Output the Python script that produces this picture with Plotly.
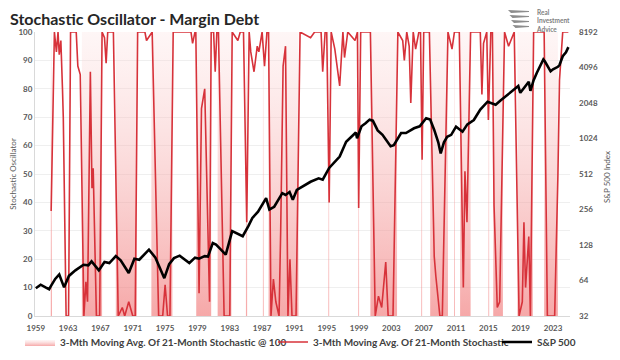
import math
import plotly.graph_objects as go

# ---------------- data ----------------
X_TICK_YEARS = [1959, 1963, 1967, 1971, 1975, 1979, 1983, 1987, 1991, 1995,
                1999, 2003, 2007, 2011, 2015, 2019, 2023]
X_TICK_LABELS = [str(y) for y in X_TICK_YEARS]

LEFT_TICKS = [0, 10, 20, 30, 40, 50, 60, 70, 80, 90, 100]
RIGHT_TICKS = [32, 64, 128, 256, 512, 1024, 2048, 4096, 8192]
RIGHT_TICK_LABELS = ["32", "64", "128", "256", "512", "1024", "2048", "4096", "8192"]

# shaded periods of "3-Mth Moving Avg. Of 21-Month Stochastic @ 100"
BAND_START = [1960.85, 1964.7, 1968.9, 1973.3, 1978.85, 1981.5, 1985.0, 1987.1,
              1987.8, 1995.2, 1998.9, 2000.4, 2006.7, 2007.8, 2010.75, 2011.5,
              2015.0, 2015.6, 2018.6, 2021.9]
BAND_END = [1961.0, 1967.2, 1971.5, 1975.9, 1980.7, 1983.2, 1985.15, 1987.2,
            1991.5, 1995.3, 1999.0, 2003.7, 2006.8, 2010.0, 2010.85, 2012.8,
            2015.1, 2016.8, 2020.5, 2023.6]

# 3-Mth Moving Avg. Of 21-Month Stochastic
STOCH_T = [1960.9, 1961.3, 1961.55, 1961.75, 1961.9, 1962.1, 1962.3, 1962.4, 1962.75,
           1963.05, 1963.3, 1964.0, 1964.2, 1964.5, 1964.95, 1965.2, 1965.4, 1965.75,
           1965.95, 1966.1, 1966.5, 1966.9, 1967.2, 1967.5, 1967.7, 1967.9, 1968.6,
           1969.2, 1969.7, 1970.0, 1970.5, 1971.0, 1971.3, 1971.6, 1972.5, 1972.7,
           1973.4, 1974.2, 1974.7, 1975.0, 1975.3, 1975.6, 1976.0, 1978.2, 1978.4,
           1978.7, 1978.8, 1979.0, 1979.2, 1979.5, 1979.9, 1980.5, 1980.7, 1981.0,
           1981.2, 1981.4, 1981.6, 1982.3, 1983.0, 1983.3, 1984.0, 1984.3, 1984.7,
           1985.1, 1985.4, 1985.6, 1986.0, 1986.4, 1986.6, 1987.0, 1987.3, 1987.6,
           1987.8, 1988.1, 1988.4, 1988.7, 1989.1, 1989.3, 1989.6, 1989.9, 1990.2,
           1990.45, 1990.7, 1991.2, 1991.7, 1993.0, 1993.5, 1994.3, 1994.5, 1994.8,
           1995.0, 1995.3, 1995.55, 1996.0, 1996.6, 1997.0, 1997.2, 1997.6, 1998.5,
           1998.8, 1998.95, 1999.2, 2000.4, 2001.0, 2001.4, 2001.8, 2002.3, 2002.6,
           2003.2, 2003.8, 2004.4, 2004.6, 2004.9, 2005.2, 2005.4, 2005.7, 2006.0,
           2006.4, 2006.6, 2006.8, 2007.0, 2007.7, 2008.3, 2008.5, 2009.0, 2009.3,
           2010.0, 2010.5, 2010.8, 2011.4, 2011.9, 2012.1, 2012.35, 2012.8, 2014.0,
           2014.2, 2014.4, 2014.8, 2015.0, 2015.3, 2015.5, 2015.7, 2016.1, 2016.4,
           2017.0, 2017.5, 2018.2, 2018.8, 2019.2, 2019.4, 2019.6, 2020.0, 2020.2,
           2020.6, 2021.9, 2022.3, 2023.2, 2023.6, 2023.8, 2024.2, 2024.9]
STOCH_V = [37, 100, 93, 100, 92, 97, 80, 70, 0,
           0, 100, 100, 88, 85, 0, 12, 5, 86,
           45, 52, 0, 0, 100, 98, 89, 100, 100,
           0, 3, 0, 5, 0, 0, 100, 100, 97,
           100, 0, 0, 11, 0, 0, 100, 100, 96,
           100, 100, 42, 8, 73, 80, 5, 100, 100,
           86, 100, 100, 0, 0, 100, 97, 100, 100,
           33, 100, 93, 86, 95, 93, 100, 88, 100,
           100, 0, 13, 5, 0, 30, 88, 95, 0,
           20, 0, 0, 100, 98, 100, 100, 86, 100,
           100, 40, 100, 94, 81, 100, 91, 100, 97,
           100, 38, 100, 100, 0, 7, 3, 19, 0,
           0, 100, 97, 90, 100, 95, 75, 100, 94,
           100, 100, 55, 100, 100, 21, 14, 0, 0,
           100, 94, 100, 100, 10, 51, 33, 100, 100,
           78, 96, 100, 69, 100, 100, 39, 3, 5,
           100, 95, 100, 0, 5, 33, 10, 28, 0,
           100, 100, 0, 0, 49, 83, 100, 100]

# S&P 500 index
SPX_T = [1959.0, 1959.6, 1960.2, 1960.65, 1960.9, 1961.4, 1961.9, 1962.5, 1963.1,
         1963.9, 1964.9, 1965.5, 1965.9, 1966.8, 1967.5, 1968.1, 1968.9, 1969.5,
         1970.5, 1971.2, 1971.8, 1973.0, 1973.8, 1974.9, 1975.5, 1976.1, 1976.8,
         1978.0, 1978.7, 1979.2, 1979.9, 1980.3, 1980.9, 1981.3, 1981.7, 1982.5,
         1983.3, 1983.8, 1984.6, 1985.3, 1985.8, 1986.5, 1987.5, 1987.9, 1988.5,
         1989.5, 1989.9, 1990.4, 1990.8, 1991.3, 1992.0, 1993.0, 1994.0, 1994.5,
         1995.3, 1996.0, 1996.6, 1997.4, 1998.0, 1998.6, 1998.75, 1999.3, 1999.8,
         2000.3, 2000.7, 2001.3, 2001.9, 2002.5, 2002.9, 2003.3, 2003.8, 2004.2,
         2004.8, 2005.8, 2006.5, 2007.3, 2007.8, 2008.3, 2008.8, 2009.1, 2009.5,
         2009.9, 2010.4, 2011.0, 2011.8, 2012.4, 2013.2, 2014.0, 2014.9, 2015.9,
         2016.5, 2017.8, 2018.7, 2018.95, 2019.5, 2020.0, 2020.2, 2020.6, 2021.0,
         2021.8, 2022.0, 2022.7, 2023.0, 2023.6, 2023.8, 2024.2, 2024.6, 2024.9]
SPX_V = [55, 59, 56, 54, 58, 66, 72, 56, 70,
         78, 87, 86, 93, 78, 92, 90, 103, 95,
         74, 98, 96, 117, 100, 67, 88, 99, 104,
         90, 100, 98, 103, 102, 133, 129, 121, 106,
         168, 162, 152, 185, 217, 245, 320, 256, 270,
         352, 340, 360, 310, 375, 402, 440, 470, 458,
         576, 650, 720, 960, 1050, 1150, 1030, 1300, 1380,
         1480, 1450, 1200, 1100, 950, 880, 900, 1031, 1140,
         1140, 1250, 1300, 1520, 1480, 1210, 950, 766, 950,
         1060, 1100, 1290, 1170, 1350, 1470, 1800, 2100, 1980,
         2150, 2550, 2850, 2500, 2800, 3100, 2600, 3200, 3700,
         4800, 4600, 3800, 3950, 4150, 4300, 5100, 5500, 6100]

# ---------------- figure ----------------
band_x, band_y = [], []
for s, e in zip(BAND_START, BAND_END):
    band_x += [s, s, e, e]
    band_y += [0, 100, 100, 0]

FONT = "Lato"
GREY = "#595959"
W, H = 612, 352     # page body has an 8px margin
OFF = 8

fig = go.Figure()

fig.add_trace(go.Scatter(
    x=band_x, y=band_y, mode="lines", fill="tozeroy",
    line=dict(width=0, color="rgba(244,175,175,0.6)"),
    fillcolor="rgba(244,175,175,0.6)",
    fillgradient=dict(type="vertical", start=0, stop=100,
                      colorscale=[[0, "rgba(240,115,115,0.62)"],
                                  [1, "rgba(252,225,225,0.30)"]]),
    name="3-Mth Moving Avg. Of 21-Month Stochastic @ 100",
    legend="legend", hoverinfo="skip"))

fig.add_trace(go.Scatter(
    x=STOCH_T, y=STOCH_V, mode="lines",
    line=dict(color="#d7323a", width=1.6),
    name="3-Mth Moving Avg. Of 21-Month Stochastic", legend="legend2"))

fig.add_trace(go.Scatter(
    x=SPX_T, y=SPX_V, mode="lines", yaxis="y2",
    line=dict(color="#000000", width=2.6),
    name="S&amp;P 500", legend="legend3"))

tickfont = dict(family=FONT, size=8, color=GREY, weight="bold")
legfont = dict(family=FONT, size=10, color="#404040", weight="bold")
LEG_Y = 1 - (342 - OFF) / H


def leg(text_px):
    return dict(orientation="h", xref="container", x=(text_px - 48) / W,
                xanchor="left", yref="container", y=LEG_Y, yanchor="middle",
                font=legfont, bgcolor="rgba(0,0,0,0)", itemwidth=30)


# plot area on screen: x 35..570, y 32..316
fig.update_layout(
    width=W, height=H,
    margin=dict(l=35 - OFF, r=W - (570 - OFF), t=32 - OFF, b=H - (316 - OFF),
                autoexpand=False),
    paper_bgcolor="white", plot_bgcolor="white",
    xaxis=dict(range=[1958.9, 2025.1], tickmode="array",
               tickvals=X_TICK_YEARS, ticktext=X_TICK_LABELS,
               showgrid=False, zeroline=False, showline=True,
               linecolor="#d9d9d9", ticks="", ticklabelstandoff=4,
               tickfont=tickfont),
    yaxis=dict(range=[0, 100], tickmode="array", tickvals=LEFT_TICKS,
               showgrid=True, gridcolor="#efefef", zeroline=False,
               showline=True, linecolor="#d9d9d9", ticks="",
               tickfont=tickfont,
               title=dict(text="Stochastic Oscillator", standoff=4,
                          font=dict(family=FONT, size=8, color=GREY))),
    yaxis2=dict(type="log", overlaying="y", side="right",
                range=[math.log10(32), math.log10(8192)],
                tickmode="array", tickvals=RIGHT_TICKS,
                ticktext=RIGHT_TICK_LABELS, showgrid=False, zeroline=False,
                ticks="", ticklabelstandoff=8, tickfont=tickfont),
    legend=leg(60),
    legend2=leg(313),
    legend3=leg(537),
    showlegend=True,
)


def px(xp):
    return (xp - 35) / 535


def py(yp):
    return (316 - yp) / 284


# title
fig.add_annotation(text="<b>Stochastic Oscillator - Margin Debt</b>",
                   xref="paper", yref="paper", x=px(9), y=py(18),
                   xanchor="left", yanchor="middle", showarrow=False,
                   borderpad=0,
                   font=dict(family=FONT, size=16, color="#262626"))

# right axis title
fig.add_annotation(text="S&amp;P 500 Index", xref="paper", yref="paper",
                   x=px(607), y=py(177), textangle=-90, showarrow=False,
                   xanchor="center", yanchor="middle",
                   font=dict(family=FONT, size=8, color=GREY))

# logo text
fig.add_annotation(text="<b>Real<br>Investment<br>Advice</b>",
                   xref="paper", yref="paper",
                   x=px(535), y=py(21), xanchor="left", yanchor="middle",
                   align="left", showarrow=False, borderpad=0,
                   font=dict(family=FONT, size=6.5, color="#7f7f7f"))

# simple grey emblem next to logo text
for i, (y0, y1) in enumerate([(10, 13), (15, 18), (20, 23), (25, 28)]):
    x0 = 508 + i * 1.5
    path = (f"M {px(x0)},{py(y0)} L {px(529)},{py(y0 + 1)} "
            f"L {px(529)},{py(y1 - 1)} L {px(x0 + 3)},{py(y1)} Z")
    fig.add_shape(type="path", path=path, xref="paper", yref="paper",
                  fillcolor="#8c8c8c", line=dict(width=0), layer="above")

fig.write_html("out.html")
